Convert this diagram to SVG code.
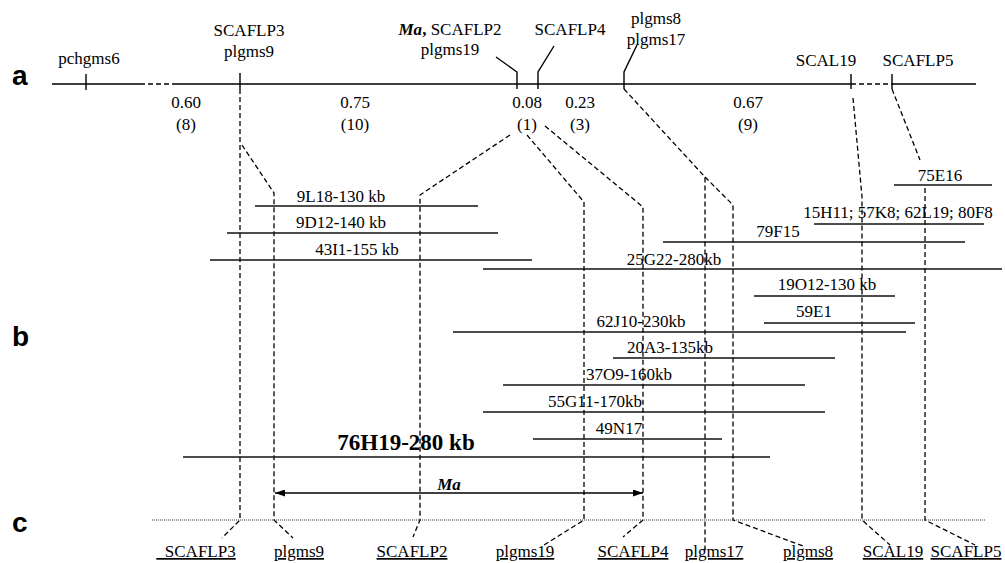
<svg xmlns="http://www.w3.org/2000/svg" width="1005" height="563" viewBox="0 0 1005 563">
<defs>
<style>
text{font-family:"Liberation Serif","Times New Roman",serif;font-size:17px;fill:#000}
.c{text-anchor:middle}
.lab{font-family:"Liberation Sans",Arial,sans-serif;font-weight:bold;font-size:28px}
.big{font-weight:bold;font-size:23px}
.sol{stroke:#000;stroke-width:1.4;fill:none}
.bac{stroke:#111;stroke-width:1.5;fill:none}
.dash{stroke:#000;stroke-width:1.3;fill:none;stroke-dasharray:5 3}
.dot{stroke:#333;stroke-width:1;fill:none;stroke-dasharray:1 1}
.ul{text-decoration:underline}
</style>
<marker id="ah" viewBox="0 0 10 7" refX="10" refY="3.5" markerWidth="10" markerHeight="7" markerUnits="userSpaceOnUse" orient="auto-start-reverse">
<path d="M0,0 L10,3.5 L0,7 z" fill="#000"/>
</marker>
</defs>
<rect width="1005" height="563" fill="#fff"/>

<g id="panel-labels">
<text class="lab" x="12" y="85">a</text>
<text class="lab" x="12" y="346">b</text>
<text class="lab" x="12" y="532">c</text>
</g>

<g id="map-a">
<path class="sol" d="M52,84 H140 M176,84 H851 M892,84 H976"/>
<path class="dash" d="M140,84 H176 M851,84 H892"/>
<path class="sol" d="M86,74 V90 M240,73 V89 M496,57 L517,72 V89 M554,46 L538,72 V89 M637,45 L624,72 V89 M851,74 V89 M892,74 V89"/>
<text class="c" x="89" y="64">pchgms6</text>
<text class="c" x="249" y="36">SCAFLP3</text>
<text class="c" x="249" y="57">plgms9</text>
<text class="c" x="450" y="35"><tspan font-weight="bold" font-style="italic">Ma</tspan><tspan font-weight="bold">,</tspan> SCAFLP2</text>
<text class="c" x="450" y="55">plgms19</text>
<text class="c" x="570" y="35">SCAFLP4</text>
<text class="c" x="656" y="24">plgms8</text>
<text class="c" x="656" y="45">plgms17</text>
<text class="c" x="826" y="66">SCAL19</text>
<text class="c" x="918" y="66">SCAFLP5</text>
<text class="c" x="186" y="108">0.60</text>
<text class="c" x="186" y="130">(8)</text>
<text class="c" x="355" y="108">0.75</text>
<text class="c" x="355" y="130">(10)</text>
<text class="c" x="527" y="108">0.08</text>
<text class="c" x="527" y="130">(1)</text>
<text class="c" x="580" y="108">0.23</text>
<text class="c" x="580" y="130">(3)</text>
<text class="c" x="748" y="108">0.67</text>
<text class="c" x="748" y="130">(9)</text>
</g>

<g id="connectors">
<path class="dash" d="M240,89 V520 L222,538"/>
<path class="dash" d="M242,145 L274,193 V520 L293,538"/>
<path class="dash" d="M510,135 L420,195 V520 L413,537"/>
<path class="dash" d="M527,135 L584,202 V520 L544,545"/>
<path class="dash" d="M545,126 L643,207 V520 L623,537"/>
<path class="dash" d="M624,89 L705,177 V552"/>
<path class="dash" d="M705,177 L733,205 V520 L803,546"/>
<path class="dash" d="M853,98 L862,197 V520 L890,545"/>
<path class="dash" d="M892,89 L920,160 M925,188 V520 L975,545"/>
</g>

<g id="bac-9L18"><line class="bac" x1="255" y1="206" x2="478" y2="206"/><text class="c" x="341" y="202">9L18-130 kb</text></g>
<g id="bac-9D12"><line class="bac" x1="227" y1="233" x2="498" y2="233"/><text class="c" x="341" y="228">9D12-140 kb</text></g>
<g id="bac-43I1"><line class="bac" x1="210" y1="260" x2="532" y2="260"/><text class="c" x="357" y="255">43I1-155 kb</text></g>
<g id="bac-75E16"><line class="bac" x1="894" y1="185" x2="992" y2="185"/><text class="c" x="940" y="181">75E16</text></g>
<g id="bac-15H11"><line class="bac" x1="814" y1="224" x2="984" y2="224"/><text class="c" x="898" y="218">15H11; 57K8; 62L19; 80F8</text></g>
<g id="bac-79F15"><line class="bac" x1="663" y1="242" x2="965" y2="242"/><text class="c" x="778" y="237">79F15</text></g>
<g id="bac-25G22"><line class="bac" x1="483" y1="269" x2="1002" y2="269"/><text class="c" x="674" y="265">25G22-280kb</text></g>
<g id="bac-19O12"><line class="bac" x1="754" y1="296" x2="895" y2="296"/><text class="c" x="827" y="290">19O12-130 kb</text></g>
<g id="bac-59E1"><line class="bac" x1="764" y1="323" x2="915" y2="323"/><text class="c" x="814" y="317">59E1</text></g>
<g id="bac-62J10"><line class="bac" x1="453" y1="332" x2="906" y2="332"/><text class="c" x="641" y="327">62J10-230kb</text></g>
<g id="bac-20A3"><line class="bac" x1="613" y1="358" x2="835" y2="358"/><text class="c" x="670" y="353">20A3-135kb</text></g>
<g id="bac-37O9"><line class="bac" x1="503" y1="385" x2="805" y2="385"/><text class="c" x="629" y="380">37O9-160kb</text></g>
<g id="bac-55G11"><line class="bac" x1="483" y1="412" x2="825" y2="412"/><text class="c" x="595" y="407">55G11-170kb</text></g>
<g id="bac-49N17"><line class="bac" x1="533" y1="439" x2="722" y2="439"/><text class="c" x="619" y="434">49N17</text></g>
<g id="bac-76H19"><line class="bac" x1="183" y1="457" x2="770" y2="457"/><text class="c big" x="406" y="450">76H19-280 kb</text></g>

<g id="ma-interval">
<line class="sol" x1="275" y1="493" x2="643" y2="493" marker-start="url(#ah)" marker-end="url(#ah)"/>
<text class="c" x="449" y="490" font-weight="bold" font-style="italic">Ma</text>
</g>

<g id="map-c">
<line class="dot" x1="152" y1="520" x2="985" y2="520"/>
<text class="c ul" x="196" y="557" xml:space="preserve" style="white-space:pre">  SCAFLP3</text>
<text class="c ul" x="299" y="557">plgms9</text>
<text class="c ul" x="412" y="557">SCAFLP2</text>
<text class="c ul" x="525" y="557">plgms19</text>
<text class="c ul" x="633" y="557">SCAFLP4</text>
<text class="c ul" x="714" y="557">plgms17</text>
<text class="c ul" x="808" y="557">plgms8</text>
<text class="c ul" x="893" y="557">SCAL19</text>
<text class="c ul" x="966" y="557">SCAFLP5</text>
</g>
</svg>
